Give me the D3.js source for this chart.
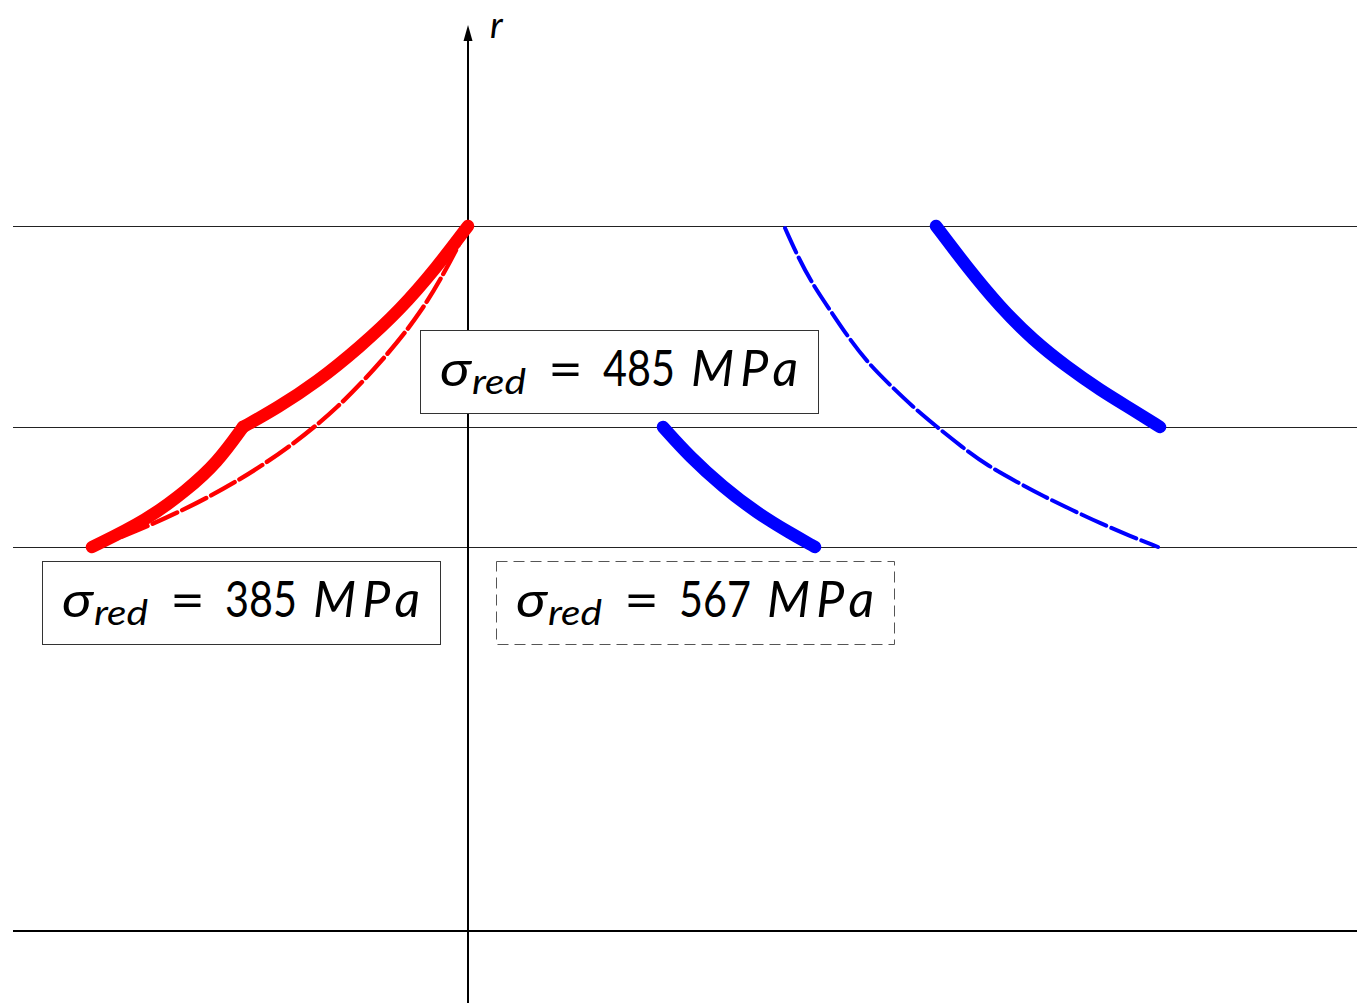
<!DOCTYPE html>
<html>
<head>
<meta charset="utf-8">
<script src="https://cdn.jsdelivr.net/npm/d3@7"></script>
<style>
  body { margin: 0; background: #fff; }
  svg { display: block; }
  text { font-family: "Lato", "Open Sans", sans-serif; fill: #000; }
</style>
</head>
<body>
<div id="chart"></div>
<script>
// reference radii (horizontal lines)
var rLevels = [384, 504, 705];

// curves as [sigma, r] pairs
var redThickLower = [[-376, 384], [-321, 411], [-281, 441], [-251, 468], [-225, 504]];
var redThickUpper = [[-225, 504], [-191, 523], [-151, 549], [-108, 584], [-68, 621], [-31, 664], [0, 705]];
var redDashed = [[-376, 384], [-345, 394], [-288, 419], [-231, 449], [-178, 484], [-130, 523],
  [-85, 571], [-46, 619], [-15, 674], [0, 705]];
var blueThickLower = [[195, 504], [222, 474], [255, 444], [289, 418], [322, 398], [347, 384]];
var blueThickUpper = [[468, 705], [499, 664], [532, 624], [565, 591], [599, 564], [632, 541], [665, 521], [692, 504]];
var blueDashed = [[317, 703], [330, 674], [345, 646], [362, 621], [380, 594], [400, 568], [422, 546],
  [445, 524], [469, 504], [494, 484], [520, 465], [549, 449], [575, 435], [604, 421], [634, 407],
  [662, 395], [690, 384]];

// stress labels
var labelValues = ["385", "485", "567"];

var width = 1357, height = 1003;

var svg = d3.select("#chart")
  .append("svg")
  .attr("width", width)
  .attr("height", height);

var x = d3.scaleLinear().domain([-455, 889]).range([13, 1357]);
var y = d3.scaleLinear().domain([0, 705]).range([931, 226]);

// horizontal reference lines
svg.selectAll("line.level")
  .data(rLevels)
  .enter()
  .append("line")
  .attr("class", "level")
  .attr("x1", x(-455)).attr("x2", x(889))
  .attr("y1", d => Math.round(y(d)) + 0.5).attr("y2", d => Math.round(y(d)) + 0.5)
  .attr("stroke", "#222")
  .attr("stroke-width", 1);

// base line r = 0
svg.append("line")
  .attr("x1", x(-455)).attr("x2", x(889))
  .attr("y1", y(0)).attr("y2", y(0))
  .attr("stroke", "#000")
  .attr("stroke-width", 2.2);

// r axis with arrow
var axisTop = 891;
svg.append("line")
  .attr("x1", x(0)).attr("x2", x(0))
  .attr("y1", height).attr("y2", y(axisTop))
  .attr("stroke", "#000")
  .attr("stroke-width", 2);

svg.append("path")
  .attr("d", "M" + x(0) + "," + (y(axisTop) - 15) +
    " L" + (x(0) - 4.5) + "," + (y(axisTop) + 1) +
    " L" + (x(0) + 4.5) + "," + (y(axisTop) + 1) + " Z")
  .attr("fill", "#000");

svg.append("text")
  .attr("x", x(0) + 22)
  .attr("y", 38)
  .attr("font-size", 37)
  .attr("font-style", "italic")
  .text("r");

var line = d3.line()
  .x(d => x(d[0]))
  .y(d => y(d[1]))
  .curve(d3.curveBasis);

var curves = [
  {pts: redDashed, color: "#ff0000", w: 4.4, dash: "27 5.5"},
  {pts: blueDashed, color: "#0000ff", w: 4, dash: "27 5.5"},
  {pts: redThickLower, color: "#ff0000", w: 12.5},
  {pts: redThickUpper, color: "#ff0000", w: 12.5},
  {pts: blueThickLower, color: "#0000ff", w: 12.5},
  {pts: blueThickUpper, color: "#0000ff", w: 12.5}
];

svg.selectAll("path.curve")
  .data(curves)
  .enter()
  .append("path")
  .attr("class", "curve")
  .attr("d", d => line(d.pts))
  .attr("fill", "none")
  .attr("stroke", d => d.color)
  .attr("stroke-width", d => d.w)
  .attr("stroke-linecap", "round")
  .attr("stroke-linejoin", "round")
  .attr("stroke-dasharray", d => d.dash || null);

// label boxes
var boxes = [
  {left: 42, top: 561, dashed: false},
  {left: 420, top: 330, dashed: false},
  {left: 496, top: 561, dashed: true}
];

var g = svg.selectAll("g.label")
  .data(boxes)
  .enter()
  .append("g")
  .attr("class", "label")
  .attr("transform", d => "translate(" + d.left + "," + d.top + ")");

g.append("rect")
  .attr("x", 0.5).attr("y", 0.5)
  .attr("width", 398).attr("height", 83)
  .attr("fill", "#fff")
  .attr("stroke", d => d.dashed ? "#555" : "#333")
  .attr("stroke-width", 1)
  .attr("stroke-dasharray", d => d.dashed ? "11 6" : null);

g.append("text")
  .attr("x", 20).attr("y", 56)
  .attr("font-size", 50)
  .attr("font-style", "italic")
  .attr("textLength", 31)
  .attr("lengthAdjust", "spacingAndGlyphs")
  .text("σ");

g.append("text")
  .attr("x", 52).attr("y", 64)
  .attr("font-size", 34)
  .attr("font-style", "italic")
  .attr("textLength", 54)
  .attr("lengthAdjust", "spacingAndGlyphs")
  .text("red");

g.append("text")
  .attr("x", 128).attr("y", 58)
  .attr("font-size", 52)
  .attr("textLength", 35)
  .attr("lengthAdjust", "spacingAndGlyphs")
  .text("=");

g.append("text")
  .attr("x", 183).attr("y", 56)
  .attr("font-size", 50)
  .attr("textLength", 72)
  .attr("lengthAdjust", "spacingAndGlyphs")
  .text((d, i) => labelValues[i]);

g.append("text")
  .attr("x", 271).attr("y", 56)
  .attr("font-size", 50)
  .attr("font-style", "italic")
  .attr("textLength", 107)
  .attr("lengthAdjust", "spacing")
  .text("MPa");
</script>
</body>
</html>
